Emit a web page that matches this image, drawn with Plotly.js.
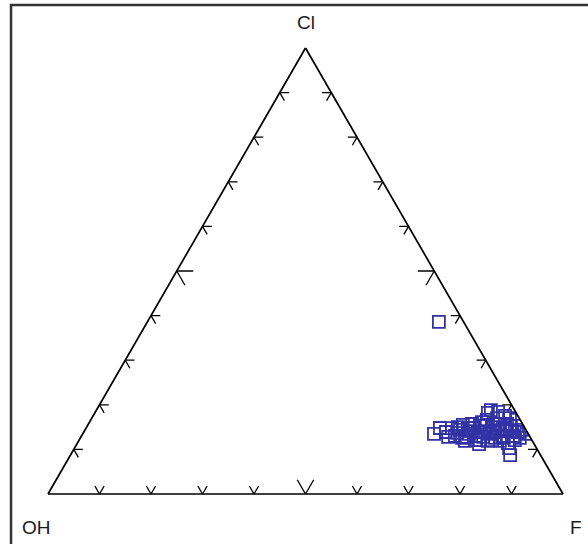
<!DOCTYPE html>
<html>
<head>
<meta charset="utf-8">
<script src="https://cdn.plot.ly/plotly-3.0.1.min.js"></script>
<style>html,body{margin:0;padding:0;background:#fff;}#chart{width:588px;height:544px;}</style>
</head>
<body>
<div id="chart"></div>
<script>
// Corner labels
const cornerLabels = ["Cl", "OH", "F"];

// Sample compositions (fractions): Cl, OH, F
const Cl = [0.386, 0.135, 0.139, 0.148, 0.130, 0.144, 0.155, 0.128, 0.141, 0.157, 0.121,
            0.139, 0.153, 0.128, 0.141, 0.166, 0.119, 0.135, 0.188, 0.150, 0.126, 0.170,
            0.141, 0.157, 0.130, 0.175, 0.144, 0.114, 0.103, 0.087, 0.153, 0.130, 0.166,
            0.139, 0.126, 0.135, 0.137, 0.148, 0.130, 0.161, 0.139, 0.148, 0.182, 0.121,
            0.119, 0.119,
            0.148, 0.128, 0.150, 0.126, 0.135, 0.148, 0.112, 0.153, 0.121, 0.157, 0.126,
            0.157, 0.141, 0.121, 0.153, 0.144, 0.184, 0.170];
const OH = [0.048, 0.183, 0.158, 0.142, 0.145, 0.128, 0.117, 0.124, 0.110, 0.098, 0.110,
            0.096, 0.085, 0.091, 0.081, 0.065, 0.086, 0.075, 0.046, 0.061, 0.069, 0.043,
            0.056, 0.044, 0.053, 0.025, 0.039, 0.050, 0.053, 0.059, 0.025, 0.032, 0.008,
            0.018, 0.021, 0.003, 0.137, 0.111, 0.104, 0.077, 0.065, 0.043, 0.055, 0.101,
            0.131, 0.063,
            0.165, 0.159, 0.129, 0.133, 0.115, 0.099, 0.107, 0.073, 0.077, 0.052, 0.052,
            0.030, 0.028, 0.033, 0.013, 0.008, 0.034, 0.018];
const F  = [0.566, 0.682, 0.703, 0.711, 0.725, 0.728, 0.728, 0.748, 0.749, 0.745, 0.769,
            0.766, 0.763, 0.781, 0.778, 0.769, 0.795, 0.791, 0.766, 0.789, 0.805, 0.787,
            0.803, 0.799, 0.817, 0.800, 0.818, 0.836, 0.844, 0.853, 0.823, 0.838, 0.826,
            0.843, 0.854, 0.863, 0.726, 0.742, 0.766, 0.762, 0.797, 0.810, 0.764, 0.778,
            0.750, 0.818,
            0.687, 0.713, 0.721, 0.741, 0.750, 0.753, 0.781, 0.774, 0.802, 0.791, 0.823,
            0.813, 0.830, 0.846, 0.835, 0.849, 0.782, 0.812];

// Tick positions along each edge
const tickValues = [0.1, 0.2, 0.3, 0.4, 0.5, 0.6, 0.7, 0.8, 0.9];

// Build the small "V" tick marks along each edge, following the grid directions
const ta = [], tb = [], tc = [];
function seg(p, q) {
  ta.push(p[0], q[0], null); tb.push(p[1], q[1], null); tc.push(p[2], q[2], null);
}
tickValues.forEach(t => {
  const L = Math.abs(t - 0.5) < 1e-9 ? 0.032 : 0.018;
  // bottom edge (Cl = 0)
  let P = [0, 1 - t, t];
  seg(P, [L, P[1], P[2] - L]);
  seg(P, [L, P[1] - L, P[2]]);
  // left edge (F = 0)
  P = [t, 1 - t, 0];
  seg(P, [t, P[1] - L, L]);
  seg(P, [t - L, P[1], L]);
  // right edge (OH = 0)
  P = [t, 0, 1 - t];
  seg(P, [t, L, P[2] - L]);
  seg(P, [t - L, L, P[2]]);
});

const traces = [
  {
    type: 'scatterternary', mode: 'lines',
    a: ta, b: tb, c: tc,
    line: {color: '#000', width: 1.3},
    hoverinfo: 'skip', showlegend: false, connectgaps: false
  },
  {
    type: 'scatterternary', mode: 'markers',
    a: Cl, b: OH, c: F,
    marker: {symbol: 'square-open', size: 12, color: 'rgb(50,50,165)', line: {width: 1.8, color: 'rgb(50,50,165)'}},
    showlegend: false
  }
];

const axisStyle = {
  title: {text: ''},
  showline: true, linecolor: '#000', linewidth: 1.7,
  showgrid: false, ticks: '', showticklabels: false, min: 0
};

const layout = {
  width: 588, height: 544,
  margin: {l: 48, r: 25, t: 48, b: 50},
  paper_bgcolor: '#fff',
  font: {family: '"Liberation Sans", Arial, sans-serif', color: '#1a1a1a', size: 19},
  showlegend: false,
  ternary: {
    sum: 1,
    bgcolor: 'rgba(0,0,0,0)',
    domain: {x: [0, 1], y: [0, 1]},
    aaxis: Object.assign({}, axisStyle),
    baxis: Object.assign({}, axisStyle),
    caxis: Object.assign({}, axisStyle)
  },
  annotations: [
    {text: cornerLabels[0], xref: 'paper', yref: 'paper', x: 0.501, y: 1.058, showarrow: false, xanchor: 'center', yanchor: 'middle'},
    {text: cornerLabels[1], xref: 'paper', yref: 'paper', x: -0.023, y: -0.074, showarrow: false, xanchor: 'center', yanchor: 'middle'},
    {text: cornerLabels[2], xref: 'paper', yref: 'paper', x: 1.025, y: -0.074, showarrow: false, xanchor: 'center', yanchor: 'middle'}
  ],
  shapes: [
    {type: 'path', xref: 'paper', yref: 'paper', layer: 'above',
     path: 'M -0.0718,-0.13 L -0.0718,1.0965 L 1.07,1.0965',
     line: {color: '#333', width: 2.5}}
  ]
};

Plotly.newPlot('chart', traces, layout, {displayModeBar: false, staticPlot: true});
</script>
</body>
</html>
